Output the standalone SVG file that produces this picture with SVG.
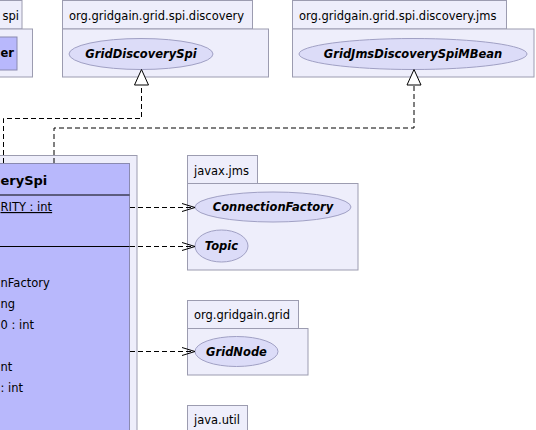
<svg xmlns="http://www.w3.org/2000/svg" width="536" height="430" viewBox="0 0 536 430">
<style>
.pkg{fill:#eeeefb;stroke:#9c9cb0;stroke-width:1}
.cls{fill:#b8b8fc;stroke:#8a8ab0;stroke-width:1}
.ell{fill:#dcdcf8;stroke:#a0a0c4;stroke-width:1}
.t{font-family:"DejaVu Sans",Verdana,sans-serif;font-size:11.5px;fill:#000}
.bi{font-family:"DejaVu Sans",Verdana,sans-serif;font-size:11.5px;font-weight:bold;font-style:italic;fill:#000}
.b{font-family:"DejaVu Sans",Verdana,sans-serif;font-size:11.5px;font-weight:bold;fill:#000}
.title{font-family:"DejaVu Sans",Verdana,sans-serif;font-size:13px;font-weight:bold;fill:#000}
.dash{fill:none;stroke:#000;stroke-width:1;stroke-dasharray:5,3}
.sep{stroke:#000;stroke-width:1}
.tri{fill:#fff;stroke:#000;stroke-width:1}
.open{fill:none;stroke:#000;stroke-width:1}
</style>
<defs>
<marker id="openArrow" markerWidth="14" markerHeight="10" refX="13" refY="5" orient="auto" markerUnits="userSpaceOnUse">
<path d="M0,1 L13,5 L0,9" class="open"/>
</marker>
</defs>

<g id="pkg-spi">
<rect class="pkg" x="-20" y="0.5" width="42" height="28.5"/>
<rect class="pkg" x="-20" y="29" width="52.5" height="48"/>
<text class="t" x="19" y="20" text-anchor="end">spi</text>
<rect class="cls" x="-20" y="37" width="37" height="33"/>
<text class="b" x="0.5" y="57">er</text>
</g>

<g id="pkg-discovery">
<rect class="pkg" x="62.5" y="0.5" width="190" height="28.5"/>
<rect class="pkg" x="62.5" y="29" width="206" height="48"/>
<text class="t" x="69" y="20">org.gridgain.grid.spi.discovery</text>
<g id="GridDiscoverySpi">
<ellipse class="ell" cx="141" cy="54" rx="72" ry="15.5"/>
<text class="bi" x="141" y="58" text-anchor="middle">GridDiscoverySpi</text>
</g>
</g>

<g id="pkg-discovery-jms">
<rect class="pkg" x="292.5" y="0.5" width="214" height="28.5"/>
<rect class="pkg" x="292.5" y="29" width="241.5" height="48"/>
<text class="t" x="299" y="20">org.gridgain.grid.spi.discovery.jms</text>
<g id="GridJmsDiscoverySpiMBean">
<ellipse class="ell" cx="413" cy="54" rx="114" ry="15.5"/>
<text class="bi" x="413" y="58" text-anchor="middle">GridJmsDiscoverySpiMBean</text>
</g>
</g>

<g id="pkg-main">
<rect class="pkg" x="-20" y="155.5" width="157" height="290"/>
</g>

<g id="GridJmsDiscoverySpi">
<rect class="cls" x="-20" y="163.5" width="149.5" height="290"/>
<text class="title" x="0.5" y="185">erySpi</text>
<line class="sep" x1="-20" y1="195" x2="129.5" y2="195"/>
<text class="t" x="0.5" y="211" text-decoration="underline">RITY : int</text>
<line class="sep" x1="-20" y1="246.5" x2="129.5" y2="246.5"/>
<text class="t" x="0.5" y="287">nFactory</text>
<text class="t" x="0.5" y="308">ng</text>
<text class="t" x="0.5" y="329">0 : int</text>
<text class="t" x="0.5" y="371">nt</text>
<text class="t" x="0.5" y="392">: int</text>
</g>

<g id="pkg-javax-jms">
<rect class="pkg" x="187.5" y="155.5" width="70" height="28"/>
<rect class="pkg" x="187.5" y="183.5" width="170.5" height="86.5"/>
<text class="t" x="194" y="175">javax.jms</text>
<g id="ConnectionFactory">
<ellipse class="ell" cx="273" cy="207" rx="78" ry="15"/>
<text class="bi" x="273" y="211" text-anchor="middle">ConnectionFactory</text>
</g>
<g id="Topic">
<ellipse class="ell" cx="221.5" cy="246" rx="26.5" ry="16"/>
<text class="bi" x="221.5" y="250" text-anchor="middle">Topic</text>
</g>
</g>

<g id="pkg-grid">
<rect class="pkg" x="187.5" y="300.5" width="111" height="28"/>
<rect class="pkg" x="187.5" y="328.5" width="120.5" height="46.5"/>
<text class="t" x="194" y="319">org.gridgain.grid</text>
<g id="GridNode">
<ellipse class="ell" cx="236.5" cy="351.5" rx="41.5" ry="15"/>
<text class="bi" x="236.5" y="355.5" text-anchor="middle">GridNode</text>
</g>
</g>

<g id="pkg-java-util">
<rect class="pkg" x="187.5" y="405.5" width="60" height="28"/>
<text class="t" x="194" y="424">java.util</text>
</g>

<g id="connectors">
<path class="dash" d="M3.5,163 L3.5,118.5 L141.5,118.5 L141.5,85"/>
<polygon class="tri" points="141.5,69.5 134.5,85 148.5,85"/>
<path class="dash" d="M54,163 L54,128 L414,128 L414,85"/>
<polygon class="tri" points="414,69.5 407,85 421,85"/>
<path class="dash" d="M130,207.5 L195,207.5" marker-end="url(#openArrow)"/>
<path class="dash" d="M130,246.5 L195,246.5" marker-end="url(#openArrow)"/>
<path class="dash" d="M130,351.5 L195,351.5" marker-end="url(#openArrow)"/>
</g>
</svg>
